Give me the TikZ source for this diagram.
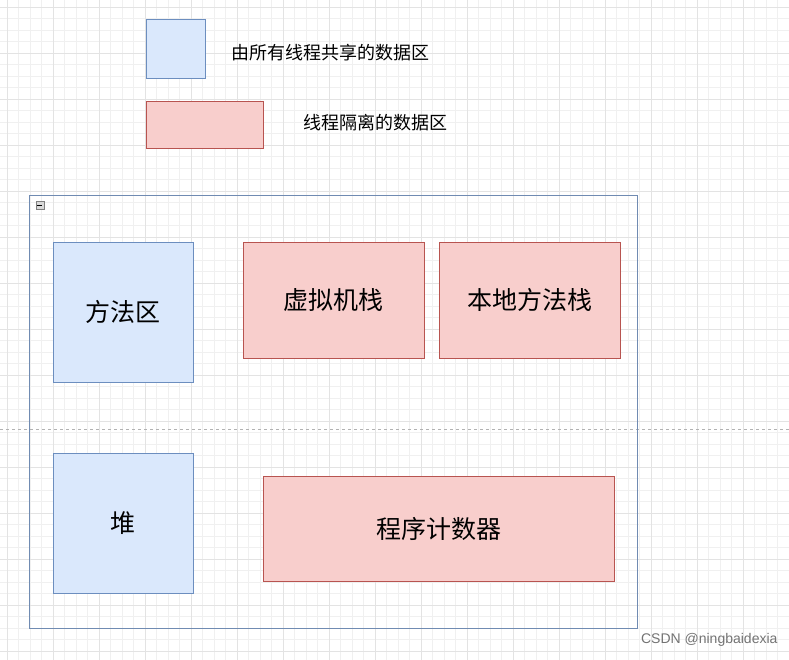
\documentclass[tikz,border=0pt]{standalone}
\usepackage{fontspec}
\newfontfamily\cjk{Noto Sans CJK SC}
\definecolor{bfill}{HTML}{DAE8FC}\definecolor{bline}{HTML}{6C8EBF}
\definecolor{rfill}{HTML}{F8CECC}\definecolor{rline}{HTML}{B85450}
\begin{document}
\begin{tikzpicture}[x=1pt,y=-1pt,
 blue/.style={draw=bline,fill=bfill,line width=0.8pt},
 red/.style={draw=rline,fill=rfill,line width=0.8pt},
 big/.style={font=\cjk\fontsize{25}{25}\selectfont},
 leg/.style={font=\cjk\fontsize{18}{18}\selectfont,anchor=west}]
\useasboundingbox (0,0) rectangle (789,660);
\fill[white] (0,0) rectangle (789,660);
\foreach \x in {7,18.5,...,789} \draw[black!6,line width=0.5pt] (\x,0) -- (\x,660);
\foreach \y in {7,18.5,...,660} \draw[black!6,line width=0.5pt] (0,\y) -- (789,\y);
\foreach \x in {7,53,...,789} \draw[black!11,line width=0.6pt] (\x,0) -- (\x,660);
\foreach \y in {7,53,...,660} \draw[black!11,line width=0.6pt] (0,\y) -- (789,\y);
\draw[black!30,dashed,line width=0.6pt] (0,429) -- (789,429);
\node[blue,minimum width=59pt,minimum height=59pt,inner sep=0] (lb) at (175.5,48.5) {};
\node[leg] (lbt) at (228,53) {由所有线程共享的数据区};
\node[red,minimum width=117pt,minimum height=47pt,inner sep=0] (lr) at (204.5,124.5) {};
\node[leg] (lrt) at (300,123) {线程隔离的数据区};
\node[draw=bline!80!gray,line width=0.8pt,minimum width=608pt,minimum height=433pt,inner sep=0] (box) at (333,411.5) {};
\node[draw=gray,fill=black!15,minimum size=8pt,inner sep=0] (icon) at (40,205.5) {};
\draw[line width=0.8pt] (icon.west) ++(1.5,0) -- ++(5,0);
\node[blue,big,minimum width=140pt,minimum height=140pt,inner sep=0] (m) at (123,312) {方法区};
\node[red,big,minimum width=181pt,minimum height=116pt,inner sep=0] (v) at (333.5,300) {虚拟机栈};
\node[red,big,minimum width=181pt,minimum height=116pt,inner sep=0] (n) at (529.5,300) {本地方法栈};
\node[blue,big,minimum width=140pt,minimum height=140pt,inner sep=0] (h) at (123,523) {堆};
\node[red,big,minimum width=351pt,minimum height=105pt,inner sep=0] (p) at (438.5,528.5) {程序计数器};
\node[font=\fontspec{Liberation Sans}\fontsize{14}{14}\selectfont,text=black!55,anchor=east] (wm) at (781,640) {CSDN @ningbaidexia};
\end{tikzpicture}
\end{document}
